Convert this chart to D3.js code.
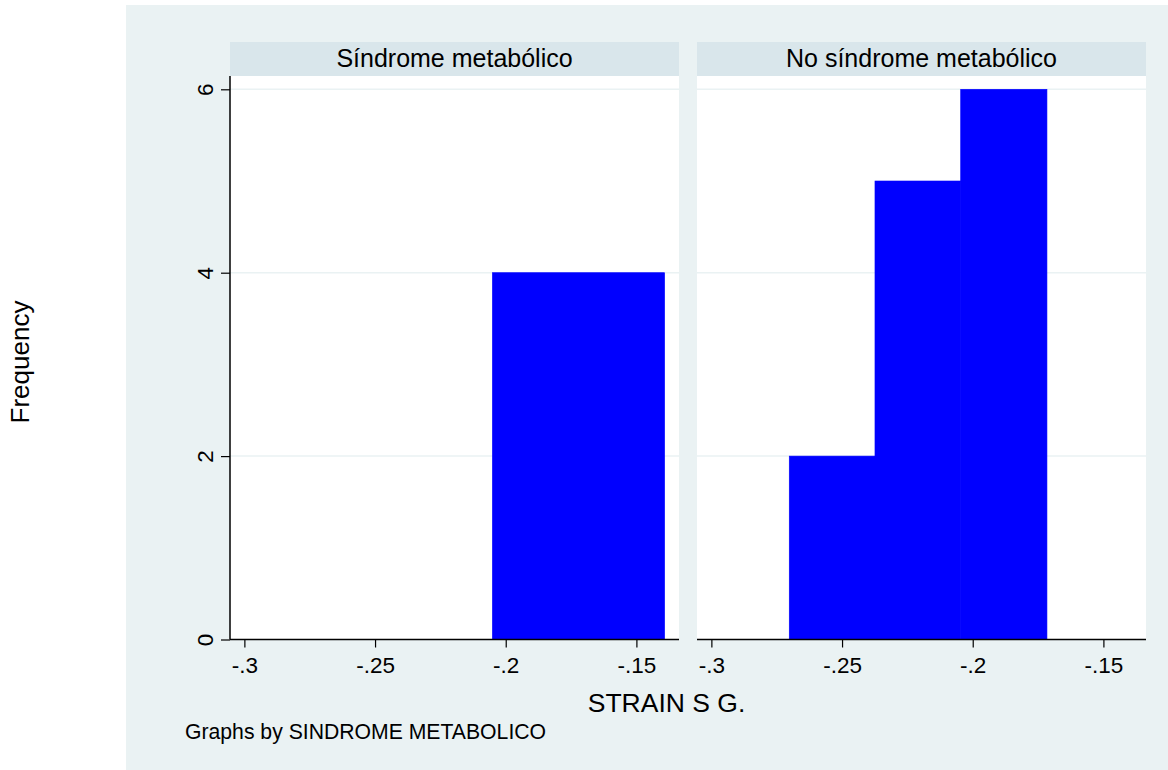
<!DOCTYPE html>
<html>
<head>
<meta charset="utf-8">
<script src="https://d3js.org/d3.v7.min.js"></script>
<style>
	body { margin: 0; background: #fff; }
	text { font-family: "Liberation Sans", Arial, sans-serif; fill: #000; }
</style>
</head>
<body>
<svg id="chart" width="1168" height="770"></svg>
<script>
// panel titles and histogram bins (edges in data units, counts per bin)
const panelTitles = ["Síndrome metabólico", "No síndrome metabólico"];
const leftBinEdges = [-0.2051, -0.1392];
const leftCounts = [4];
const rightBinEdges = [-0.2702, -0.2374, -0.2046, -0.1716];
const rightCounts = [2, 5, 6];
const xTicks = [-0.3, -0.25, -0.2, -0.15];
const xTickLabels = ["-.3", "-.25", "-.2", "-.15"];
const yTicks = [0, 2, 4, 6];

const panelData = [
	{ title: panelTitles[0], edges: leftBinEdges, counts: leftCounts },
	{ title: panelTitles[1], edges: rightBinEdges, counts: rightCounts }
];

const svg = d3.select("#chart");
const bg = "#EAF2F3", strip = "#D9E6EB";

// graph region
svg.append("rect").attr("x", 126).attr("y", 5).attr("width", 1168 - 126).attr("height", 770 - 5).attr("fill", bg);

const panelX = [230, 697], panelW = 449;
const plotTop = 76, plotBottom = 639.5;

const x = d3.scaleLinear().domain([-0.3055, -0.1337]).range([0, panelW]);
const y = d3.scaleLinear().domain([0, 6]).range([plotBottom, 89.3]);

panelData.forEach(function (p, i) {
	const g = svg.append("g").attr("transform", "translate(" + panelX[i] + ",0)");

	// strip header
	g.append("rect").attr("x", 0).attr("y", 42).attr("width", panelW).attr("height", 34).attr("fill", strip);
	g.append("text").attr("x", panelW / 2).attr("y", 67).attr("text-anchor", "middle")
		.style("font-size", "25px").text(p.title);

	// plot area
	g.append("rect").attr("x", 0).attr("y", plotTop).attr("width", panelW).attr("height", plotBottom - plotTop).attr("fill", "#fff");

	// grid lines
	g.selectAll(".grid").data(yTicks.filter(d => d > 0)).enter().append("line")
		.attr("x1", 0).attr("x2", panelW)
		.attr("y1", d => y(d)).attr("y2", d => y(d))
		.attr("stroke", bg).attr("stroke-width", 1.5);

	// bars
	g.selectAll(".bar").data(p.counts).enter().append("rect")
		.attr("x", (d, j) => x(p.edges[j]))
		.attr("width", (d, j) => x(p.edges[j + 1]) - x(p.edges[j]))
		.attr("y", d => y(d))
		.attr("height", d => y(0) - y(d))
		.attr("fill", "#0000FF")
		.attr("stroke", "#0000FF").attr("stroke-width", 0.6);

	// x axis
	const xa = g.append("g").attr("transform", "translate(0," + plotBottom + ")")
		.call(d3.axisBottom(x).tickValues(xTicks).tickSize(8).tickPadding(10)
			.tickFormat((d, j) => xTickLabels[j]));
	xa.select(".domain").attr("d", "M0,0H" + panelW).attr("stroke", "#000").attr("stroke-width", 1.5);
	xa.selectAll(".tick line").attr("stroke", "#000").attr("stroke-width", 1.2);
	xa.selectAll(".tick text").style("font-size", "22.5px").attr("font-family", null);

	// y axis only on first panel
	if (i === 0) {
		const ya = g.append("g")
			.call(d3.axisLeft(y).tickValues(yTicks).tickSize(9).tickFormat(d3.format("d")));
		ya.select(".domain").attr("d", "M0," + plotTop + "V" + plotBottom).attr("stroke", "#000").attr("stroke-width", 1.5);
		ya.selectAll(".tick line").attr("stroke", "#000").attr("stroke-width", 1.2);
		ya.selectAll(".tick text")
			.attr("x", null).attr("dy", null)
			.attr("text-anchor", "middle")
			.attr("transform", "translate(-17,0) rotate(-90)")
			.attr("y", 0)
			.style("font-size", "22.5px");
	}
});

// axis titles
svg.append("text").attr("x", 666.5).attr("y", 712).attr("text-anchor", "middle")
	.style("font-size", "26.5px").text("STRAIN S G.");
svg.append("text").attr("transform", "translate(29,362) rotate(-90)").attr("text-anchor", "middle")
	.style("font-size", "26px").text("Frequency");
svg.append("text").attr("x", 185).attr("y", 739)
	.style("font-size", "21.2px").text("Graphs by SINDROME METABOLICO");
</script>
</body>
</html>
